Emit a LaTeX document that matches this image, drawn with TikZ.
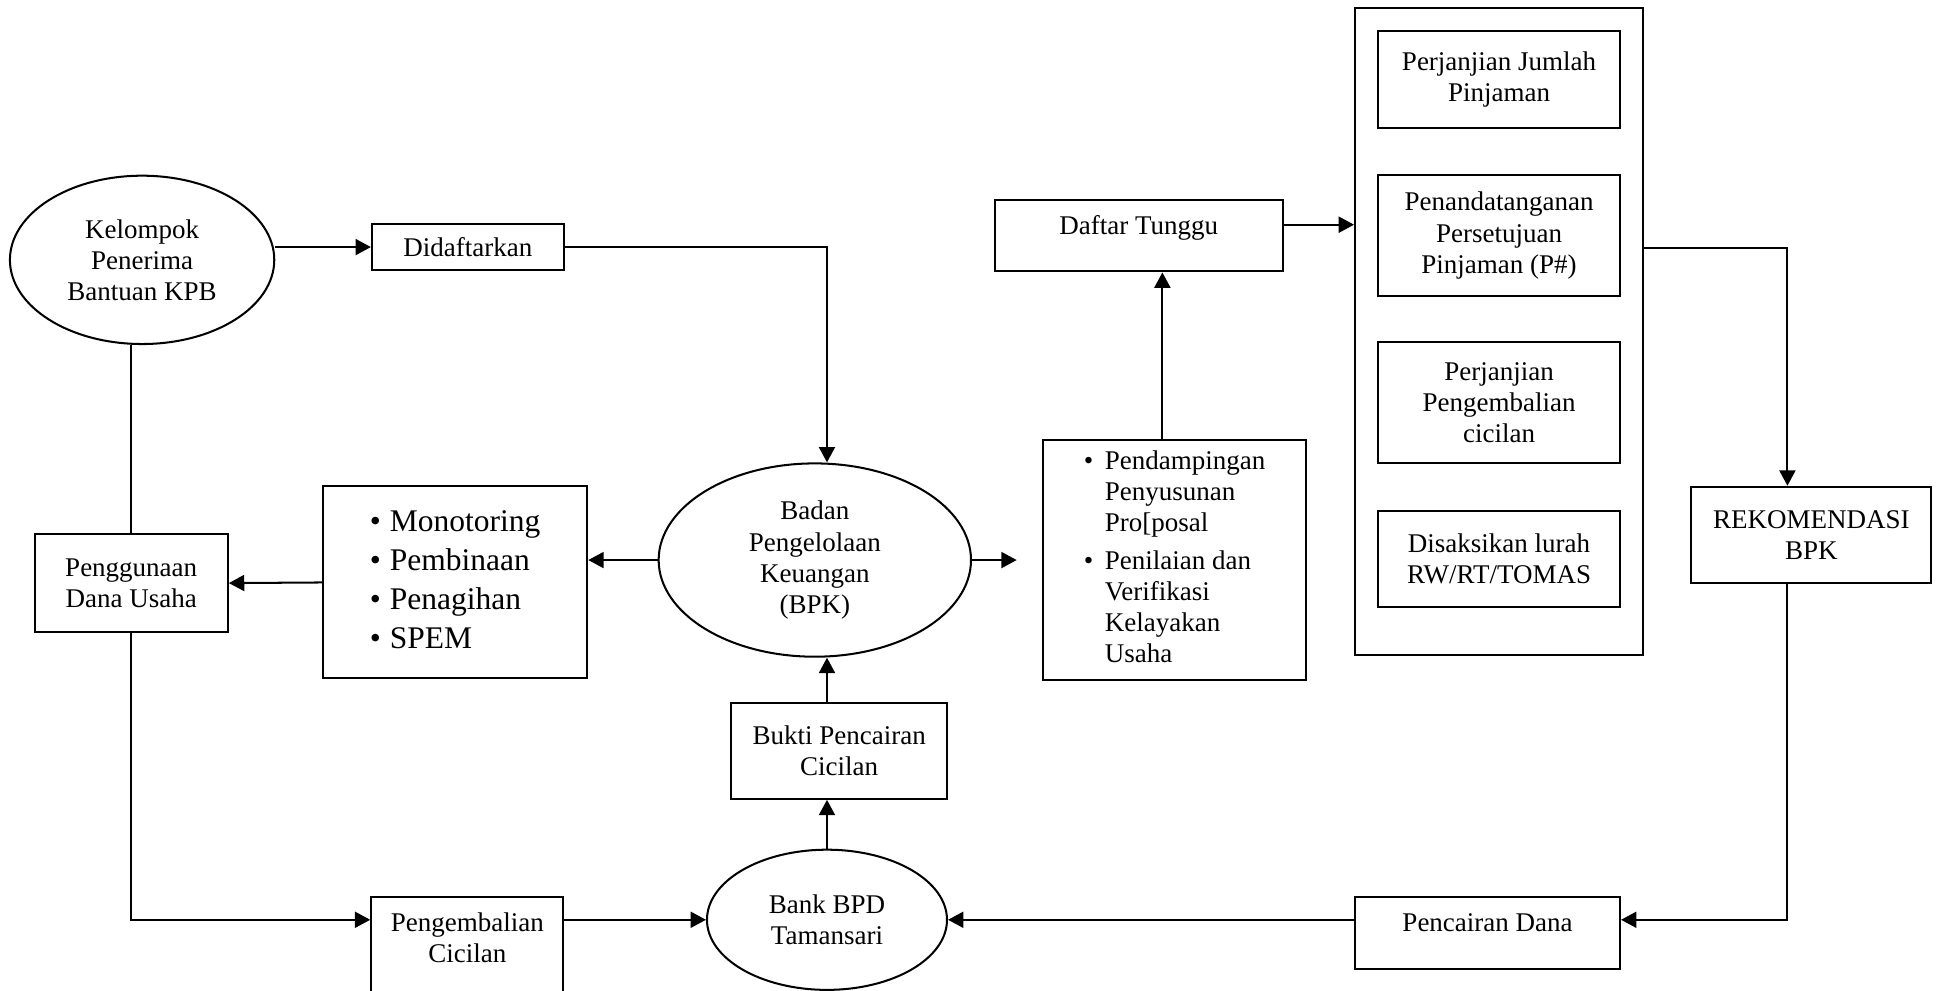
\documentclass[tikz,border=0pt]{standalone}
\usepackage{fontspec}
\setmainfont{Liberation Serif}
\usetikzlibrary{calc,shapes.geometric,arrows.meta}
\tikzset{
	kotak/.style={draw, line width=0.9pt, align=center, inner sep=0pt, font=\fontsize{12}{13.8}\selectfont},
	oval/.style={draw, ellipse, line width=0.9pt, align=center, inner sep=0pt, font=\fontsize{12}{13.8}\selectfont},
	kotakatas/.style={kotak, anchor=north, inner ysep=0.2cm, text height=0.34cm, text depth=0.38cm},
	panah/.style={line width=0.9pt, -{Triangle[length=0.24cm, width=0.25cm]}},
	garis/.style={line width=0.9pt}
}

\begin{document}
\begin{tikzpicture}
			%%%%% START %%%%%
			\useasboundingbox (0, 0) rectangle (30.34, 15.48);
			
			\node[oval, minimum width=4.13cm, minimum height=2.63cm] (kpb) at (2.22, 11.42) {Kelompok\\Penerima\\Bantuan KPB};
			\node[kotak, minimum width=3cm, minimum height=0.73cm] (didaftar) at (7.31, 11.62) {Didaftarkan};
			\node[kotak, minimum width=3.02cm, minimum height=1.52cm] (guna) at (2.05, 6.37) {Penggunaan\\Dana Usaha};
			\node[kotak, minimum width=4.13cm, minimum height=3cm, font=\fontsize{14}{17.3}\selectfont] (monitor) at (7.11, 6.38) {\begin{tabular}{@{}l@{\hspace{0.14cm}}l@{}}\textbullet & Monotoring\\ \textbullet & Pembinaan\\ \textbullet & Penagihan\\ \textbullet & SPEM\end{tabular}};
			\node[oval, minimum width=4.88cm, minimum height=3.02cm] (bpk) at (12.73, 6.73) {Badan\\Pengelolaan\\Keuangan\\(BPK)};
			\node[kotak, minimum width=4.12cm, minimum height=3.75cm] (pend) at (18.35, 6.73) {\begin{tabular}{@{}l@{\hspace{0.18cm}}l@{}}\textbullet & Pendampingan\\ & Penyusunan\\ & Pro[posal\\[3pt] \textbullet & Penilaian dan\\ & Verifikasi\\ & Kelayakan\\ & Usaha\end{tabular}};
			\node[kotakatas, minimum width=4.5cm] (tunggu) at (17.79, 12.375) {Daftar Tunggu};
			
			% paket perjanjian
			\node[kotak, minimum width=4.5cm, minimum height=10.11cm] (paket) at (23.42, 10.30) {};
			\node[kotak, minimum width=3.77cm, minimum height=1.52cm] (jumlah) at (23.42, 14.24) {Perjanjian Jumlah\\Pinjaman};
			\node[kotak, minimum width=3.77cm, minimum height=1.89cm] (tanda) at (23.42, 11.80) {Penandatanganan\\Persetujuan\\Pinjaman (P\#)};
			\node[kotak, minimum width=3.77cm, minimum height=1.88cm] (cicil) at (23.42, 9.19) {Perjanjian\\Pengembalian\\cicilan};
			\node[kotak, minimum width=3.77cm, minimum height=1.5cm] (saksi) at (23.42, 6.75) {Disaksikan lurah\\RW/RT/TOMAS};
			
			\node[kotak, minimum width=3.75cm, minimum height=1.5cm] (rekom) at (28.30, 7.125) {REKOMENDASI\\BPK};
			\node[kotakatas, minimum width=4.14cm] (cair) at (23.24, 1.484) {Pencairan Dana};
			\node[oval, minimum width=3.75cm, minimum height=2.19cm] (bank) at (12.92, 1.11) {Bank BPD\\Tamansari};
			\node[kotak, minimum width=3.375cm, minimum height=1.5cm] (bukti) at (13.11, 3.75) {Bukti Pencairan\\Cicilan};
			\node[kotakatas, minimum width=3cm, text depth=1.4cm] (kembali) at (7.30, 1.484) {\begin{tabular}[t]{@{}c@{}}Pengembalian\\Cicilan\end{tabular}};
			
			% alur
			\draw[panah] (didaftar.west -| kpb.east) -- (didaftar.west);
			\draw[panah] (didaftar.east) -| (bank.north |- bpk.north);
			\draw[garis] (guna.north) -- (guna.north |- kpb.south);
			\draw[panah] (monitor.west) -- (guna.east);
			\draw[panah] (bpk.west) -- (bpk.west -| monitor.east);
			\draw[panah] (bpk.east) -- ($(bpk.east -| pend.west)+(-0.39, 0)$);
			\draw[panah] ($(pend.north)+(-0.19, 0)$) -- ($(pend.north |- tunggu.south)+(-0.19, 0)$);
			\draw[panah] ($(tunggu.east)+(0, 0.17)$) -- ($(tunggu.east -| paket.west)+(0, 0.17)$);
			\draw[panah] ($(tanda.east -| paket.east)+(0, -0.19)$) -| ($(rekom.north)+(-0.375, 0)$);
			\draw[panah] ($(rekom.south)+(-0.375, 0)$) |- (bank.east -| cair.east);
			\draw[panah] (bank.east -| cair.west) -- (bank.east);
			\draw[panah] (bank.north) -- (bank.north |- bukti.south);
			\draw[panah] (bank.north |- bukti.north) -- (bank.north |- bpk.south);
			\draw[panah] (guna.south) |- (bank.west -| kembali.west);
			\draw[panah] (bank.west -| kembali.east) -- (bank.west);
			
			%%%%% END %%%%%
\end{tikzpicture}
\end{document}
